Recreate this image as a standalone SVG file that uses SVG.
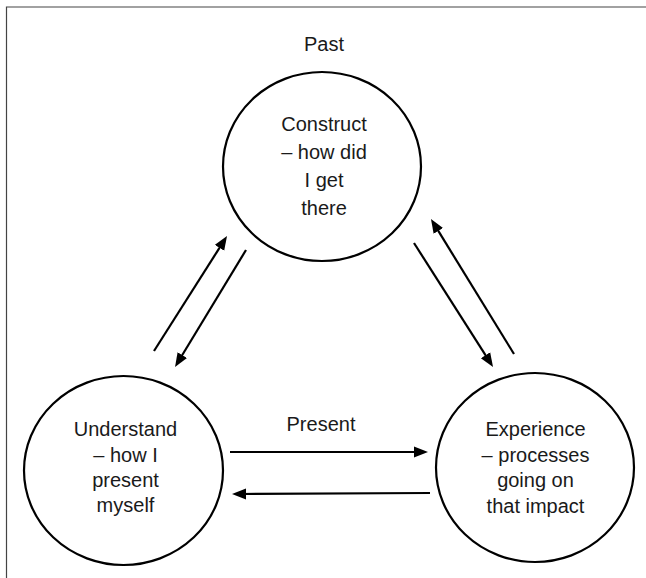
<svg xmlns="http://www.w3.org/2000/svg" width="646" height="578" viewBox="0 0 646 578">
<style>
.node ellipse{fill:#fff;stroke:#000;stroke-width:2.2}
text{font-family:"Liberation Sans",Arial,sans-serif;font-size:20px;fill:#1a1a1a;text-anchor:middle}
.conn line{stroke:#000;stroke-width:2.2}
.frame{stroke:#444;stroke-width:1.2;fill:none}
</style>
<defs>
<marker id="ah" markerUnits="userSpaceOnUse" markerWidth="14" markerHeight="12" refX="5" refY="6" orient="auto">
<path d="M0,0.5 L14,6 L0,11.5 z" fill="#000"/>
</marker>
</defs>
<rect width="646" height="578" fill="#fff"/>
<path class="frame" d="M6.5,578 V7 H646"/>
<text x="324" y="51">Past</text>
<text x="321" y="431">Present</text>
<g id="construct" class="node">
<ellipse cx="322" cy="166.5" rx="99" ry="94.5"/>
<text x="324" y="131">Construct</text>
<text x="324" y="159">– how did</text>
<text x="324" y="187">I get</text>
<text x="324" y="215">there</text>
</g>
<g id="understand" class="node">
<ellipse cx="123.5" cy="470.5" rx="99.5" ry="94.5"/>
<text x="125.5" y="436">Understand</text>
<text x="125.5" y="462">– how I</text>
<text x="125.5" y="487">present</text>
<text x="125.5" y="512">myself</text>
</g>
<g id="experience" class="node">
<ellipse cx="535" cy="467.5" rx="99" ry="94.5"/>
<text x="535.5" y="436">Experience</text>
<text x="535.5" y="462">– processes</text>
<text x="535.5" y="487">going on</text>
<text x="535.5" y="513">that impact</text>
</g>
<g id="connectors" class="conn">
<line x1="154" y1="351" x2="222.2" y2="243.6" marker-end="url(#ah)"/>
<line x1="246" y1="250" x2="179.7" y2="359.3" marker-end="url(#ah)"/>
<line x1="414" y1="243" x2="488.2" y2="359.4" marker-end="url(#ah)"/>
<line x1="514" y1="354" x2="435.7" y2="226.7" marker-end="url(#ah)"/>
<line x1="230" y1="452" x2="419" y2="452" marker-end="url(#ah)"/>
<line x1="430" y1="493" x2="241" y2="494" marker-end="url(#ah)"/>
</g>
</svg>
